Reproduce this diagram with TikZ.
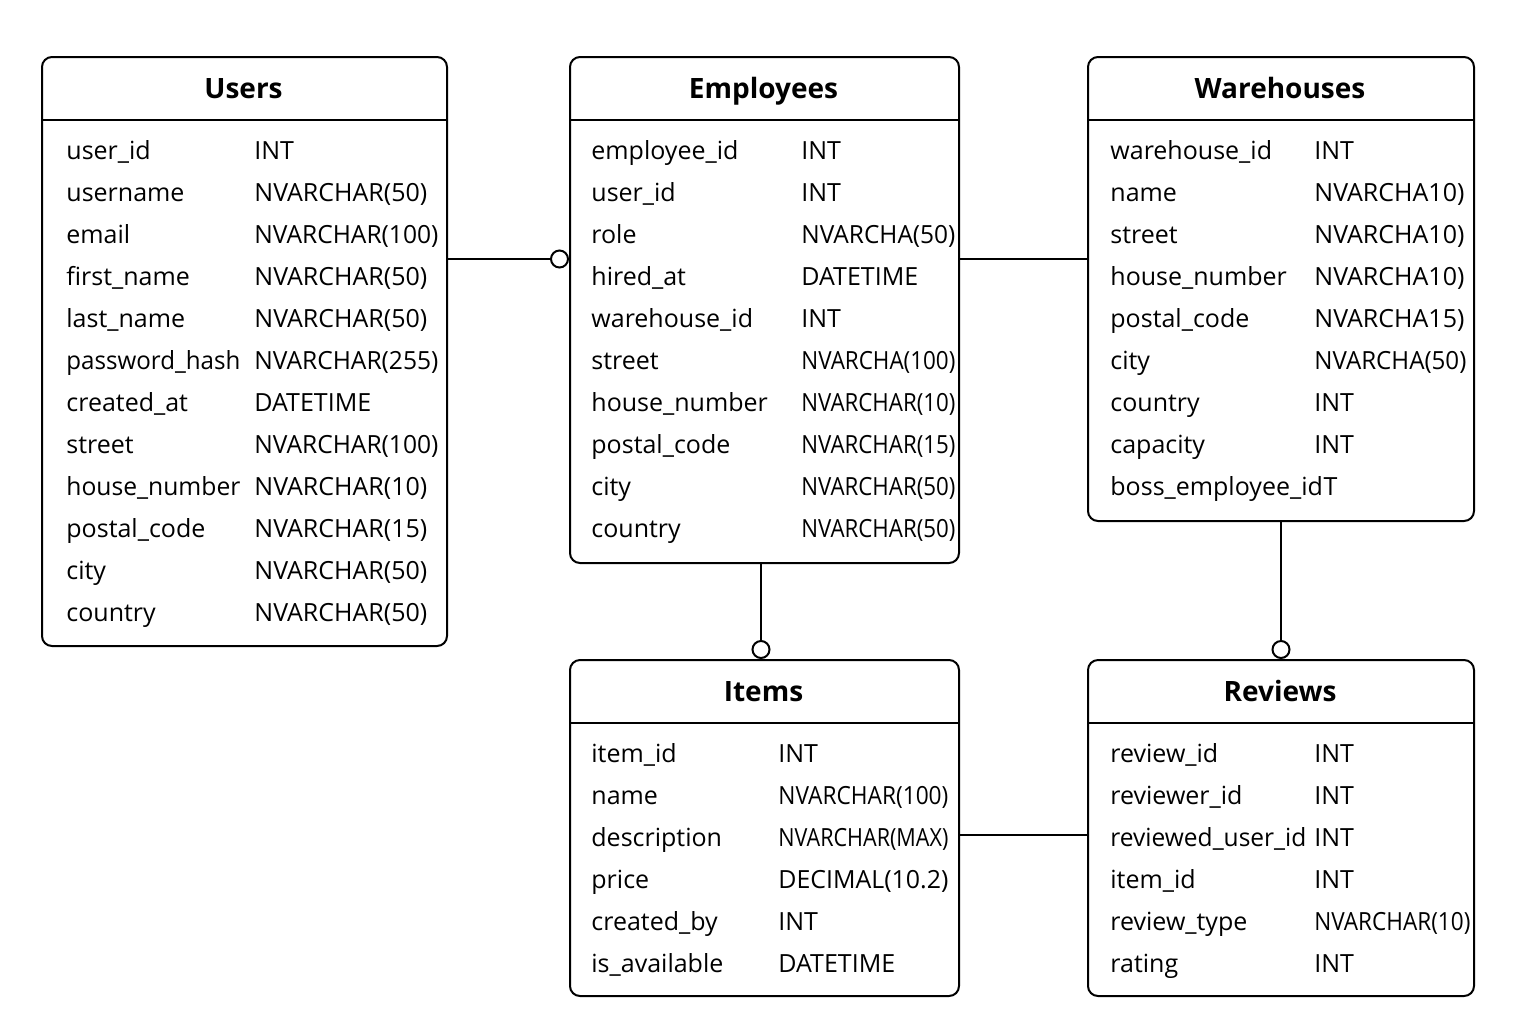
\documentclass[tikz,border=0pt]{standalone}
\usepackage{fontspec}
\setmainfont{Open Sans}
\usetikzlibrary{arrows.meta,positioning}
% squeeze a type name into its column when it is too wide
\newcommand\fittype[2]{\sbox0{#2}\ifdim\wd0>#1\relax\resizebox{#1}{\ht0}{#2}\else#2\fi}
\tikzset{
	entity/.style={
		draw,
		line width=1pt,
		rounded corners=5pt,
		anchor=north west,
		inner sep=0pt
	},
	title/.style={
		font=\fontsize{14}{16}\selectfont\bfseries,
		anchor=base
	},
	field/.style={
		font=\fontsize{12.5}{15}\selectfont,
		anchor=base west,
		inner sep=0pt
	},
	link/.style={line width=1pt},
	optional/.style={link,-{Circle[open,length=9.5pt,line width=1pt]}}
}
\begin{document}
\begin{tikzpicture}[x=0.5pt,y=-0.5pt]
	\useasboundingbox (0,0) rectangle (1536,1024);
	% Users
	\node [entity,minimum width=202.5pt,minimum height=294.5pt] (users) at (41,56) {};
	\draw [link] (users.west |- 0,120) -- (users.east |- 0,120);
	\node [title] (users title) at (243.5,98) {Users};
	\foreach \name/\type [count=\i from 0] in {user\_id/INT,username/NVARCHAR(50),email/NVARCHAR(100),first\_name/NVARCHAR(50),last\_name/NVARCHAR(50),password\_hash/NVARCHAR(255),created\_at/DATETIME,street/NVARCHAR(100),house\_number/NVARCHAR(10),postal\_code/NVARCHAR(15),city/NVARCHAR(50),country/NVARCHAR(50)}{
		\node [field] (users name \i) at (66,159+42*\i) {\fittype{87pt}{\name}};
		\node [field] (users type \i) at (254,159+42*\i) {\fittype{92pt}{\type}};
	}
	% Employees
	\node [entity,minimum width=194.5pt,minimum height=253pt] (employees) at (569,56) {};
	\draw [link] (employees.west |- 0,120) -- (employees.east |- 0,120);
	\node [title] (employees title) at (763.5,98) {Employees};
	\foreach \name/\type [count=\i from 0] in {employee\_id/INT,user\_id/INT,role/NVARCHA(50),hired\_at/DATETIME,warehouse\_id/INT,street/NVARCHA(100),house\_number/NVARCHAR(10),postal\_code/NVARCHAR(15),city/NVARCHAR(50),country/NVARCHAR(50)}{
		\node [field] (employees name \i) at (591,159+42*\i) {\name};
		\node [field] (employees type \i) at (801,159+42*\i) {\fittype{77pt}{\type}};
	}
	% Warehouses
	\node [entity,minimum width=193pt,minimum height=232pt] (warehouses) at (1087,56) {};
	\draw [link] (warehouses.west |- 0,120) -- (warehouses.east |- 0,120);
	\node [title] (warehouses title) at (1280,98) {Warehouses};
	\foreach \name/\type [count=\i from 0] in {warehouse\_id/INT,name/NVARCHA10),street/NVARCHA10),house\_number/NVARCHA10),postal\_code/NVARCHA15),city/NVARCHA(50),country/INT,capacity/INT}{
		\node [field] (warehouses name \i) at (1110,159+42*\i) {\name};
		\node [field] (warehouses type \i) at (1314,159+42*\i) {\fittype{76pt}{\type}};
	}
	\node [field] (warehouses name 8) at (1110,495) {boss\_employee\_id};
	\node [field] (warehouses type 8) at (warehouses name 8.base east) {T};
	% Items
	\node [entity,minimum width=194.5pt,minimum height=168pt] (items) at (569,659) {};
	\draw [link] (items.west |- 0,723) -- (items.east |- 0,723);
	\node [title] (items title) at (763.5,701) {Items};
	\foreach \name/\type [count=\i from 0] in {item\_id/INT,name/NVARCHAR(100),description/NVARCHAR(MAX),price/DECIMAL(10.2),created\_by/INT,is\_available/DATETIME}{
		\node [field] (items name \i) at (591,762+42*\i) {\name};
		\node [field] (items type \i) at (778,762+42*\i) {\fittype{85pt}{\type}};
	}
	% Reviews
	\node [entity,minimum width=193pt,minimum height=168pt] (reviews) at (1087,659) {};
	\draw [link] (reviews.west |- 0,723) -- (reviews.east |- 0,723);
	\node [title] (reviews title) at (1280,701) {Reviews};
	\foreach \name/\type [count=\i from 0] in {review\_id/INT,reviewer\_id/INT,reviewed\_user\_id/INT,item\_id/INT,review\_type/NVARCHAR(10),rating/INT}{
		\node [field] (reviews name \i) at (1110,762+42*\i) {\fittype{98pt}{\name}};
		\node [field] (reviews type \i) at (1314,762+42*\i) {\fittype{78pt}{\type}};
	}
	% relations
	\draw [optional] (users.east |- 0,259) -- (employees.west |- 0,259);
	\draw [link] (employees.east |- 0,259) -- (warehouses.west |- 0,259);
	\draw [optional] (employees.south -| 761,0) -- (items.north -| 761,0);
	\draw [optional] (warehouses.south) -- (reviews.north);
	\draw [link] (items.east |- 0,835) -- (reviews.west |- 0,835);
\end{tikzpicture}
\end{document}
